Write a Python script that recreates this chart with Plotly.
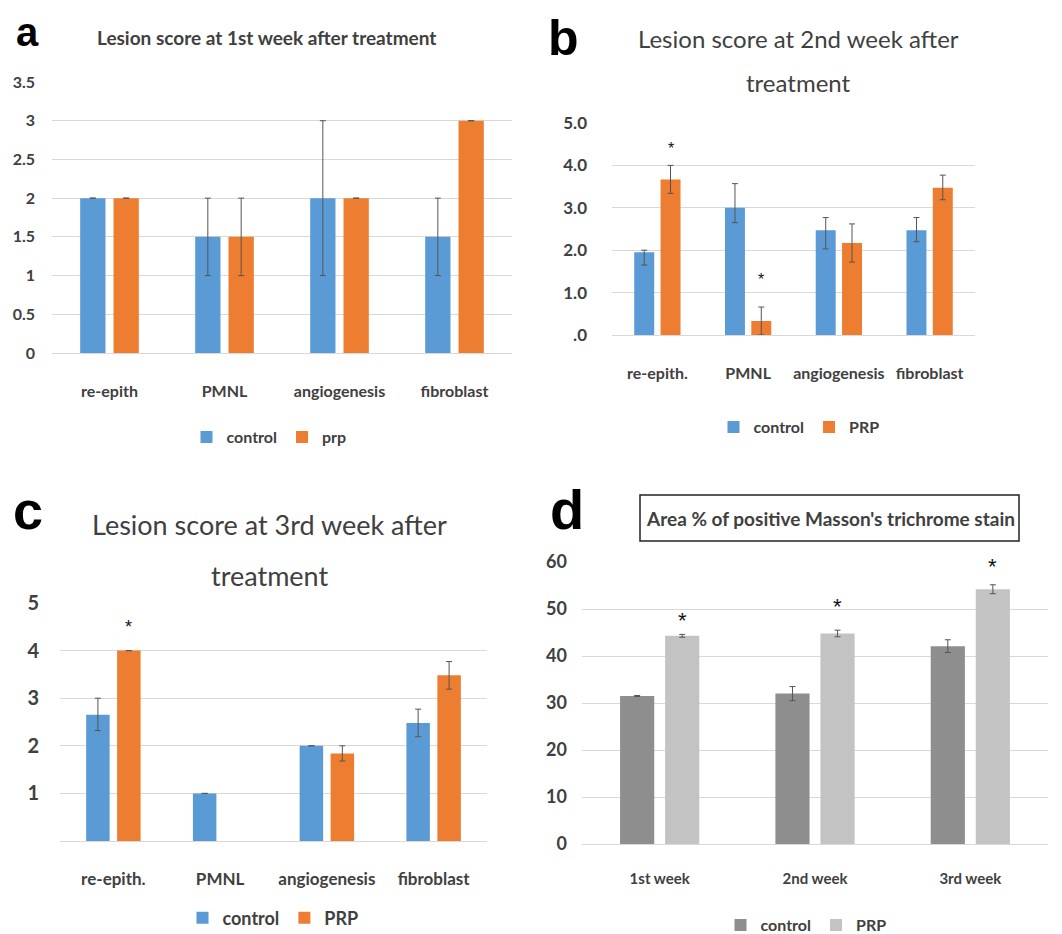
import plotly.graph_objects as go

# ---------------- data ----------------
cats_a = ["re-epith", "PMNL", "angiogenesis", "fibroblast"]
cats_bc = ["re-epith.", "PMNL", "angiogenesis", "fibroblast"]
cats_d = ["1st week", "2nd week", "3rd week"]

a_control = [2.0, 1.5, 2.0, 1.5]
a_control_err = [0.0, 0.5, 1.0, 0.5]
a_prp = [2.0, 1.5, 2.0, 3.0]
a_prp_err = [0.0, 0.5, 0.0, 0.0]

b_control = [1.95, 3.0, 2.47, 2.47]
b_control_err_plus = [0.05, 0.57, 0.3, 0.3]
b_control_err_minus = [0.3, 0.35, 0.44, 0.27]
b_prp = [3.67, 0.33, 2.17, 3.47]
b_prp_err_plus = [0.33, 0.33, 0.45, 0.3]
b_prp_err_minus = [0.33, 0.33, 0.45, 0.28]
b_stars_idx = [0, 1]
b_stars_y = [4.4, 1.32]

c_control = [2.65, 1.0, 2.0, 2.48]
c_control_err_plus = [0.35, 0.0, 0.0, 0.29]
c_control_err_minus = [0.33, 0.0, 0.0, 0.29]
c_prp = [4.0, None, 1.84, 3.48]
c_prp_err = [0.0, None, 0.16, 0.29]
c_stars_idx = [0]
c_stars_y = [4.5]

d_control = [31.5, 32.0, 42.1]
d_control_err = [0.1, 1.5, 1.35]
d_prp = [44.3, 44.8, 54.2]
d_prp_err = [0.3, 0.7, 0.95]
d_stars_idx = [0, 1, 2]
d_stars_y = [47.6, 50.6, 59.0]

a_ticks = [0, 0.5, 1, 1.5, 2, 2.5, 3, 3.5]
a_ticktext = ["0", "0.5", "1", "1.5", "2", "2.5", "3", "3.5"]
b_ticks = [0, 1, 2, 3, 4, 5]
b_ticktext = [".0", "1.0", "2.0", "3.0", "4.0", "5.0"]
c_ticks = [1, 2, 3, 4, 5]
c_ticktext = ["1", "2", "3", "4", "5"]
d_ticks = [0, 10, 20, 30, 40, 50, 60]
d_ticktext = ["0", "10", "20", "30", "40", "50", "60"]

# ---------------- style ----------------
W, H = 1062, 934
PAGE_OFF = 8  # default body margin of the html page
BLUE = "#5B9BD5"
ORANGE = "#ED7D31"
DGRAY = "#8E8E8E"
LGRAY = "#C3C3C3"
GRID = "#D9D9D9"
TXT = "#404040"
ERR = "#555555"
FONT = "Lato"

BAR_W = 0.22
BAR_GAP = 0.07


def px_x(p):
    return (p - PAGE_OFF) / W


def px_y(p):
    return 1 - (p - PAGE_OFF) / H


fig = go.Figure()

panels = [
    dict(ax="", cats=cats_a,
         series=[("control", a_control, a_control_err, a_control_err, BLUE),
                 ("prp", a_prp, a_prp_err, a_prp_err, ORANGE)],
         xd=(52, 512), yd=(82, 353), yr=[0, 3.5], tv=a_ticks, tt=a_ticktext,
         legend="legend", leg_xy=(269, 437), tick_size=16, cat_size=16,
         cat_len=24, standoff=16, leg_size=16),
    dict(ax="2", cats=cats_bc,
         series=[("control", b_control, b_control_err_plus, b_control_err_minus, BLUE),
                 ("PRP", b_prp, b_prp_err_plus, b_prp_err_minus, ORANGE)],
         xd=(612, 975), yd=(123, 335), yr=[0, 5], tv=b_ticks, tt=b_ticktext,
         legend="legend2", leg_xy=(799, 427), tick_size=17, cat_size=16,
         cat_len=24, standoff=24, leg_size=16),
    dict(ax="3", cats=cats_bc,
         series=[("control", c_control, c_control_err_plus, c_control_err_minus, BLUE),
                 ("PRP", c_prp, c_prp_err, c_prp_err, ORANGE)],
         xd=(60, 487), yd=(603, 841), yr=[0, 5], tv=c_ticks, tt=c_ticktext,
         legend="legend3", leg_xy=(273, 918), tick_size=20, cat_size=17,
         cat_len=23, standoff=20, leg_size=18),
    dict(ax="4", cats=cats_d,
         series=[("control", d_control, d_control_err, d_control_err, DGRAY),
                 ("PRP", d_prp, d_prp_err, d_prp_err, LGRAY)],
         xd=(582, 1048), yd=(562, 844), yr=[0, 60], tv=d_ticks, tt=d_ticktext,
         legend="legend4", leg_xy=(806, 925), tick_size=18, cat_size=15,
         cat_len=21, standoff=14, leg_size=16),
]

layout = dict(
    width=W, height=H, margin=dict(l=0, r=0, t=0, b=0, autoexpand=False),
    paper_bgcolor="white", plot_bgcolor="white",
    barmode="group", showlegend=True,
    font=dict(family=FONT, color=TXT),
)

for i, p in enumerate(panels):
    xa = "x" + p["ax"]
    ya = "y" + p["ax"]
    offsets = [-(BAR_W + BAR_GAP / 2), BAR_GAP / 2]
    for (name, vals, ep, em, col), off in zip(p["series"], offsets):
        fig.add_trace(go.Bar(
            x=p["cats"], y=vals, name=name, marker=dict(color=col, line=dict(width=0)),
            width=BAR_W, offset=off,
            error_y=dict(type="data", array=ep, arrayminus=em, symmetric=False,
                         color=ERR, thickness=1, width=3),
            xaxis=xa, yaxis=ya, legend=p["legend"],
        ))
    xkey = "xaxis" + p["ax"]
    ykey = "yaxis" + p["ax"]
    layout[xkey] = dict(
        domain=[px_x(p["xd"][0]), px_x(p["xd"][1])], anchor=ya, automargin=False,
        showgrid=False, showline=True, linecolor=GRID, linewidth=1,
        ticks="outside", ticklen=p["cat_len"], tickcolor="rgba(0,0,0,0)",
        tickfont=dict(size=p["cat_size"], family=FONT, color=TXT, weight="bold"),
        fixedrange=True,
    )
    layout[ykey] = dict(
        domain=[px_y(p["yd"][1]), px_y(p["yd"][0])], anchor=xa, automargin=False,
        range=p["yr"], tickvals=p["tv"], ticktext=p["tt"],
        showgrid=True, gridcolor=GRID, gridwidth=1, zeroline=False,
        showline=False, ticklabelstandoff=p["standoff"],
        tickfont=dict(size=p["tick_size"], family=FONT, color=TXT, weight="bold"),
        fixedrange=True,
    )
    layout[p["legend"]] = dict(
        orientation="h", x=px_x(p["leg_xy"][0]), y=px_y(p["leg_xy"][1]),
        xanchor="center", yanchor="middle", bgcolor="rgba(0,0,0,0)",
        font=dict(size=p["leg_size"], family=FONT, color=TXT, weight="bold"),
        itemwidth=30, traceorder="normal",
    )

fig.update_layout(**layout)

# asterisks above PRP bars
star_off = BAR_GAP / 2 + BAR_W / 2
for ax, idxs, ys, size in [("2", b_stars_idx, b_stars_y, 16),
                           ("3", c_stars_idx, c_stars_y, 18),
                           ("4", d_stars_idx, d_stars_y, 22)]:
    for i, yv in zip(idxs, ys):
        fig.add_annotation(x=i + star_off, y=yv, xref="x" + ax, yref="y" + ax,
                           text="*", showarrow=False,
                           font=dict(size=size, family="Liberation Sans", color="#111111"),
                           yanchor="middle")

# panel letters (a, b anchored at the top edge so they stay inside the page)
for letter, xp, yp, size, yanc in [("a", 27, 8, 40, "top"), ("b", 563, 8, 50, "top"),
                                   ("c", 28, 510, 54, "middle"), ("d", 567, 510, 56, "middle")]:
    fig.add_annotation(x=px_x(xp), y=px_y(yp), xref="paper", yref="paper",
                       text="<b>%s</b>" % letter, showarrow=False,
                       xanchor="center", yanchor=yanc,
                       font=dict(size=size, family="Liberation Sans", color="black"))

# titles
titles = [
    ("Lesion score at 1st week after treatment", 266, 37, 19, "bold"),
    ("Lesion score at 2nd week after", 798, 38, 24, "normal"),
    ("treatment", 798, 83, 24, "normal"),
    ("Lesion score at 3rd week after", 269, 524, 27, "normal"),
    ("treatment", 269, 575, 27, "normal"),
    ("Area % of positive Masson's trichrome stain", 830, 518, 19, "bold"),
]
for t, xp, yp, size, wt in titles:
    fig.add_annotation(x=px_x(xp), y=px_y(yp), xref="paper", yref="paper",
                       text=t, showarrow=False, xanchor="center", yanchor="middle",
                       font=dict(size=size, family=FONT, color=TXT, weight=wt))

# box around panel d title
fig.add_shape(type="rect", xref="paper", yref="paper",
              x0=px_x(640), x1=px_x(1019), y0=px_y(541), y1=px_y(495),
              line=dict(color="#222222", width=1.5), fillcolor="rgba(0,0,0,0)")

fig.write_html("out.html")
